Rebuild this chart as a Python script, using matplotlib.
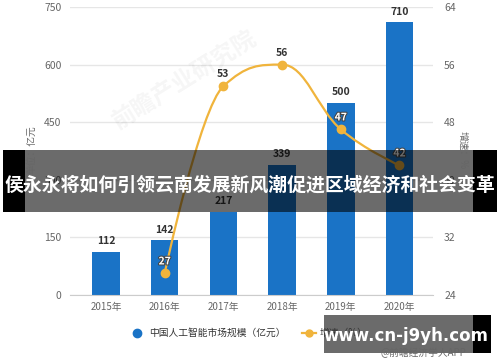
import matplotlib.pyplot as plt
import matplotlib.patheffects as pe
from matplotlib.path import Path
from matplotlib.patches import PathPatch, Rectangle
from matplotlib.lines import Line2D

plt.rcParams['font.family'] = ['Noto Sans CJK SC', 'DejaVu Sans']

years = ["2015年", "2016年", "2017年", "2018年", "2019年", "2020年"]
market = [112, 142, 217, 339, 500, 710]
growth_x = [1, 2, 3, 4, 5]
growth = [27, 53, 56, 47, 42]
left_ticks = [0, 150, 300, 450, 600, 750]
right_ticks = [24, 32, 40, 48, 56, 64]

W, H = 500, 362
blue = "#1a73c6"
orange = "#f0b43c"
grey = "#666666"

fig = plt.figure(figsize=(W / 100, H / 100), dpi=100)


def fx(px):
    return px / W


def fy(py):
    return 1 - py / H


ax = fig.add_axes([fx(70), fy(295), fx(433) - fx(70), fy(7) - fy(295)])
ax2 = ax.twinx()

x = list(range(len(years)))
ax.bar(x, market, width=0.47, color=blue, zorder=2)
for xi, v in zip(x, market):
    ax.annotate(str(v), (xi, v), xytext=(0, 4), textcoords="offset points",
                ha="center", va="bottom", fontsize=7.5, fontweight="bold", color="#333333")

ax.set_xlim(-0.613, 5.571)
ax.set_ylim(0, 750)
ax.set_yticks(left_ticks)
ax.set_xticks(x)
ax.set_xticklabels(years)
ax.grid(axis="y", color="#e6e6e6", lw=1, zorder=0)
ax.set_axisbelow(True)
for s in ["top", "right", "left"]:
    ax.spines[s].set_visible(False)
ax.spines["bottom"].set_color("#cccccc")
ax.tick_params(axis="x", length=0, pad=5, labelsize=7, labelcolor=grey)
ax.tick_params(axis="y", length=0, pad=6, labelsize=7.5, labelcolor=grey)

ax2.set_ylim(24, 64)
ax2.set_yticks(right_ticks)
for s in ["top", "right", "left", "bottom"]:
    ax2.spines[s].set_visible(False)
ax2.tick_params(axis="y", length=0, pad=8, labelsize=7.5, labelcolor=grey)


# highcharts-style spline through the growth points
def spline_path(xs, ys, smooth=1.5):
    n = len(xs)
    rc = [None] * n
    verts = [(xs[0], ys[0])]
    codes = [Path.MOVETO]
    for i in range(1, n):
        px, py = xs[i], ys[i]
        lcx, lcy = px, py
        if i < n - 1:
            lx, ly = xs[i - 1], ys[i - 1]
            nx, ny = xs[i + 1], ys[i + 1]
            d = smooth + 1
            lcx = (smooth * px + lx) / d
            lcy = (smooth * py + ly) / d
            rcx = (smooth * px + nx) / d
            rcy = (smooth * py + ny) / d
            corr = (rcy - lcy) * (rcx - px) / (rcx - lcx) + py - rcy
            lcy += corr
            rcy += corr
            if lcy > ly and lcy > py:
                lcy = max(ly, py)
                rcy = 2 * py - lcy
            elif lcy < ly and lcy < py:
                lcy = min(ly, py)
                rcy = 2 * py - lcy
            if rcy > ny and rcy > py:
                rcy = max(ny, py)
                lcy = 2 * py - rcy
            elif rcy < ny and rcy < py:
                rcy = min(ny, py)
                lcy = 2 * py - rcy
            rc[i] = (rcx, rcy)
        start = rc[i - 1] if rc[i - 1] else (xs[i - 1], ys[i - 1])
        verts += [start, (lcx, lcy), (px, py)]
        codes += [Path.CURVE4] * 3
    return Path(verts, codes)


ax2.add_patch(PathPatch(spline_path(growth_x, growth), fill=False, ec=orange, lw=1.6, zorder=3))
ax2.plot(growth_x, growth, "o", color=orange, ms=6, zorder=4)
for xi, v in zip(growth_x, growth):
    if v < 50:
        ax2.annotate(str(v), (xi, v), xytext=(0, 5), textcoords="offset points",
                     ha="center", va="bottom", fontsize=7.5, fontweight="bold", color="white",
                     path_effects=[pe.withStroke(linewidth=1.5, foreground="#444444")], zorder=5)
    else:
        ax2.annotate(str(v), (xi, v), xytext=(0, 5), textcoords="offset points",
                     ha="center", va="bottom", fontsize=7.5, fontweight="bold", color="#333333", zorder=5)

# axis titles
fig.text(fx(31), fy(150), "单位：亿元", rotation=90, ha="center", va="center", fontsize=7, color=grey)
fig.text(fx(463), fy(150), "增速：%", rotation=270, ha="center", va="center", fontsize=7, color=grey)

# faint watermark
fig.text(fx(185), fy(80), "前瞻产业研究院", rotation=32, ha="center", va="center",
         fontsize=17, fontweight="bold", color="#000000", alpha=0.04)

# legend
fig.add_artist(Line2D([fx(137)], [fy(333)], marker="o", ms=6, color=blue, transform=fig.transFigure))
fig.text(fx(149), fy(333), "中国人工智能市场规模（亿元）", ha="left", va="center", fontsize=7, color="#333333")
fig.add_artist(Line2D([fx(302), fx(316)], [fy(333), fy(333)], lw=1.6, color=orange, transform=fig.transFigure))
fig.add_artist(Line2D([fx(309)], [fy(333)], marker="o", ms=5, color=orange, transform=fig.transFigure))
fig.text(fx(320), fy(333), "增速（%）", ha="left", va="center", fontsize=7, color="#333333")
fig.text(fx(466), fy(353), "@前瞻经济学人APP", ha="right", va="center", fontsize=7, color=grey)

# overlay title band
fig.add_artist(Rectangle((fx(25), fy(212)), fx(473) - fx(25), fy(150) - fy(212),
                         transform=fig.transFigure, color="black", alpha=0.58, lw=0))
fig.add_artist(Rectangle((fx(3), fy(212)), fx(25) - fx(3), fy(150) - fy(212),
                         transform=fig.transFigure, color="black", lw=0))
fig.add_artist(Rectangle((fx(473), fy(212)), fx(497) - fx(473), fy(150) - fy(212),
                         transform=fig.transFigure, color="black", lw=0))
fig.text(fx(250), fy(185), "侯永永将如何引领云南发展新风潮促进区域经济和社会变革",
         ha="center", va="center", fontsize=13.6, fontweight="bold", color="white")

# bottom url box
fig.add_artist(Rectangle((fx(324), fy(353)), fx(473) - fx(324), fy(315) - fy(353),
                         transform=fig.transFigure, color="black", alpha=0.58, lw=0))
fig.add_artist(Rectangle((fx(473), fy(353)), fx(491) - fx(473), fy(315) - fy(353),
                         transform=fig.transFigure, color="black", lw=0))
fig.text(fx(406), fy(336), "www.cn-j9yh.com", ha="center", va="center",
         fontsize=12, fontweight="bold", color="white", family=["DejaVu Sans"])

fig.savefig("out.png", dpi=100)
